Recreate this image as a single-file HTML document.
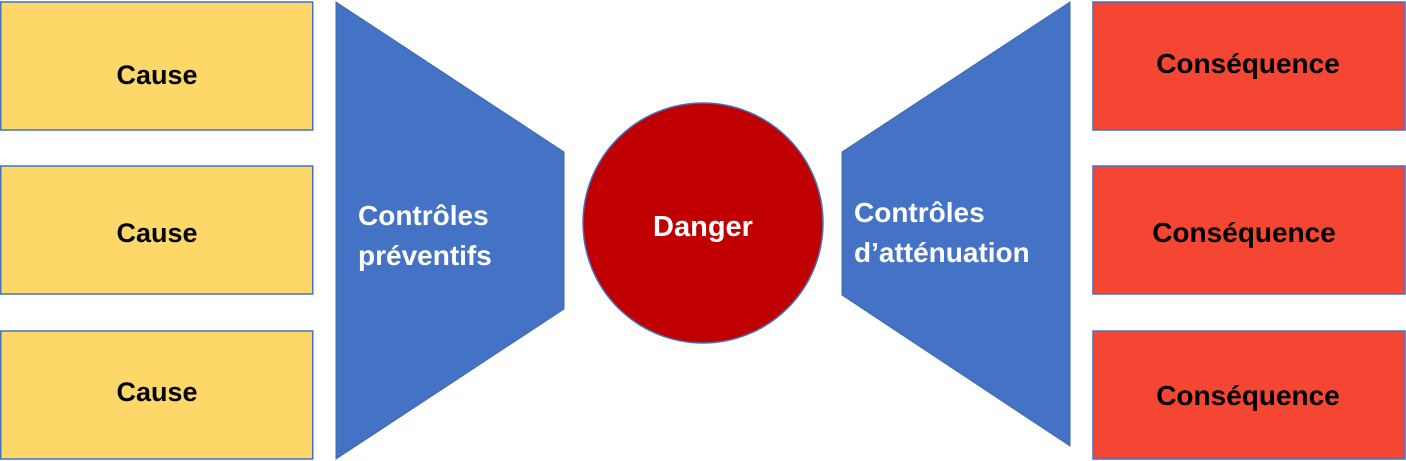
<!DOCTYPE html>
<html><head><meta charset="utf-8"><style>
html,body{margin:0;padding:0;background:#fff;}
svg{display:block;}
text{font-family:"Liberation Sans",sans-serif;font-weight:bold;font-size:28px;}
</style></head><body>
<svg width="1406" height="461" viewBox="0 0 1406 461" xmlns="http://www.w3.org/2000/svg">
<g fill="#FDD869" stroke="#4472C4" stroke-width="1.5">
<rect x="0.75" y="2" width="312" height="128"/>
<rect x="0.75" y="166" width="312" height="128"/>
<rect x="0.75" y="331" width="312" height="128"/>
</g>
<g fill="#F54633" stroke="#4472C4" stroke-width="1.5">
<rect x="1093" y="2" width="312" height="128"/>
<rect x="1093" y="166" width="312" height="128"/>
<rect x="1093" y="331" width="312" height="128"/>
</g>
<polygon points="336,2 564,152 564,309 336,459" fill="#4472C4" stroke="#3F68B0" stroke-width="1"/>
<polygon points="1070,2 842,152 842,295 1070,446" fill="#4472C4" stroke="#3F68B0" stroke-width="1"/>
<circle cx="703" cy="223" r="120" fill="#C00000" stroke="#4472C4" stroke-width="1.5"/>
<g fill="#000" text-anchor="middle">
<text x="157" y="84" style="font-size:27px">Cause</text>
<text x="157" y="242" style="font-size:27px">Cause</text>
<text x="157" y="401" style="font-size:27px">Cause</text>
<text x="1248" y="73">Conséquence</text>
<text x="1244" y="242">Conséquence</text>
<text x="1248" y="405">Conséquence</text>
</g>
<g fill="#fff">
<text x="703" y="236" text-anchor="middle" style="font-size:29px">Danger</text>
<text x="358" y="225">Contrôles</text>
<text x="358" y="265">préventifs</text>
<text x="854" y="222">Contrôles</text>
<text x="854" y="262">d’atténuation</text>
</g>
</svg>
</body></html>
